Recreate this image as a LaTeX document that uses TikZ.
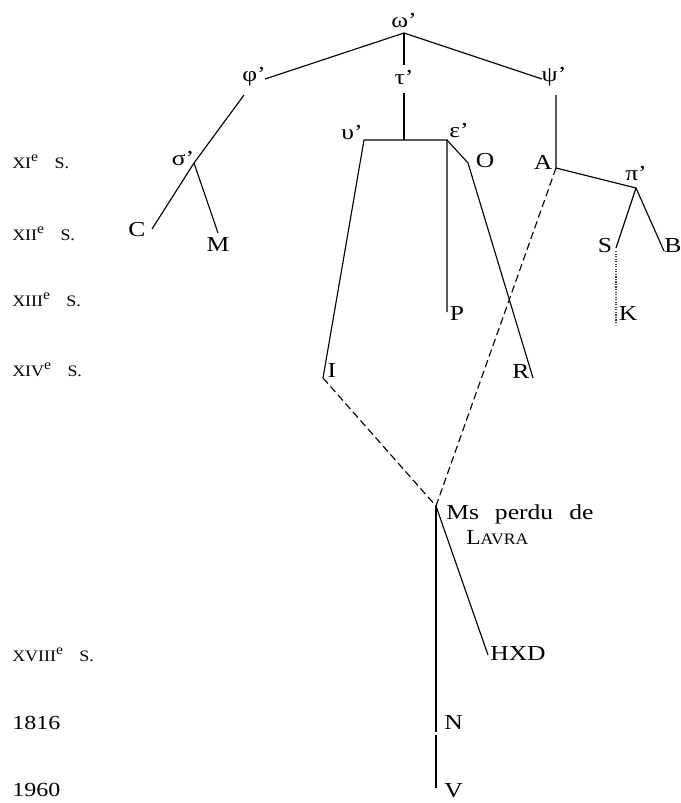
\documentclass[tikz,border=0pt]{standalone}
\usepackage{fontspec}
\usepackage{graphicx}
\setmainfont{Liberation Serif}
\newcommand\lblfont{\fontsize{16}{18}\selectfont}
\newcommand\sieclefont{\fontsize{15}{17}\selectfont}
\newcommand\W[1]{\scalebox{1.2}[1]{#1}}
\newcommand\smc[1]{{\fontsize{12}{13}\selectfont #1}}
\newcommand\siecle[1]{\scalebox{1.12}[1]{\smc{#1}\textsuperscript{e}\hspace{0.7em}\smc{S.}}}
\begin{document}
\begin{tikzpicture}[x=0.75pt,y=-0.75pt,
  ln/.style={line width=0.85pt},
  dsh/.style={line width=0.85pt, dash pattern=on 5.5pt off 3pt},
  dtt/.style={line width=0.9pt, densely dotted, black!75},
  lbl/.style={inner sep=0pt, font=\lblfont},
  sc/.style={inner sep=0pt, anchor=west, font=\sieclefont}]
\useasboundingbox (0,0) rectangle (681,803);

% century labels
\node[sc] (s11) at (12,162) {\siecle{XI}};
\node[sc] (s12) at (12,234) {\siecle{XII}};
\node[sc] (s13) at (12,300) {\siecle{XIII}};
\node[sc] (s14) at (12,370) {\siecle{XIV}};
\node[sc] (s18) at (12,655) {\siecle{XVIII}};
\node[sc] (y1816) at (12,723) {\W{1816}};
\node[sc] (y1960) at (12,790) {\W{1960}};

% junction coordinates
\coordinate (wJ) at (404,33);
\coordinate (phiE) at (265,79);
\coordinate (psiE) at (542,79);
\coordinate (tauT) at (404,65);
\coordinate (phiL) at (244,95);
\coordinate (sig) at (194,163);
\coordinate (Ce) at (152,229);
\coordinate (Me) at (218,233);
\coordinate (tauL) at (404,93);
\coordinate (barM) at (404,140);
\coordinate (barL) at (364,140);
\coordinate (barR) at (447,140);
\coordinate (Ie) at (323,378);
\coordinate (Pe) at (447,312);
\coordinate (Ok) at (468,163);
\coordinate (Re) at (533,378);
\coordinate (psiL) at (556,95);
\coordinate (Aj) at (556,168);
\coordinate (pij) at (636,188);
\coordinate (Se) at (616,248);
\coordinate (Be) at (664,251);
\coordinate (St) at (616,251);
\coordinate (Ke) at (616,322);
\coordinate (Ms) at (436,506);
\coordinate (He) at (488,655);
\coordinate (N1) at (436,732);
\coordinate (N2) at (436,735);
\coordinate (Ve) at (436,788);

% labels
\node[lbl] (omega) at (404,21) {\W{ω’}};
\node[lbl] (phi) at (254,77) {\W{φ’}};
\node[lbl] (tau) at (404,78) {\W{τ’}};
\node[lbl] (psi) at (554,77) {\W{ψ’}};
\node[lbl] (sigma) at (183,159) {\W{σ’}};
\node[lbl] (C) at (137,230) {\W{C}};
\node[lbl] (M) at (218,245) {\W{M}};
\node[lbl] (ups) at (352,133) {\W{υ’}};
\node[lbl] (eps) at (459,131) {\W{ε’}};
\node[lbl] (O) at (485,161) {\W{O}};
\node[lbl] (A) at (543,162) {\W{A}};
\node[lbl] (pi) at (636,174) {\W{π’}};
\node[lbl] (S) at (605,246) {\W{S}};
\node[lbl] (B) at (673,246) {\W{B}};
\node[lbl] (P) at (457,314) {\W{P}};
\node[lbl] (K) at (628,314) {\W{K}};
\node[lbl] (I) at (332,371) {\W{I}};
\node[lbl] (R) at (521,372) {\W{R}};
\node[lbl, anchor=west] (ms) at (446,514) {\W{Ms\hspace{10pt}perdu\hspace{10pt}de}};
\node[lbl, anchor=west] (lavra) at (466,538) {\scalebox{1.1}[1]{L\smc{AVRA}}};
\node[lbl, anchor=west] (HXD) at (490,654) {\W{HXD}};
\node[lbl, anchor=west] (N) at (444,723) {\W{N}};
\node[lbl, anchor=west] (V) at (444,791) {\W{V}};

% connectors
\draw[ln] (phiE) -- (wJ) -- (psiE);
\draw[ln] (wJ) -- (tauT);
\draw[ln] (phiL) -- (sig) -- (Ce);
\draw[ln] (sig) -- (Me);
\draw[ln] (tauL) -- (barM);
\draw[ln] (Ie) -- (barL) -- (barR) -- (Pe);
\draw[ln] (barR) -- (Ok) -- (Re);
\draw[ln] (psiL) -- (Aj) -- (pij) -- (Se);
\draw[ln] (pij) -- (Be);
\draw[dtt] (St) -- (Ke);
\draw[dsh] (Aj) -- (Ms);
\draw[dsh] (Ie) -- (Ms);
\draw[ln] (Ms) -- (He);
\draw[ln] (Ms) -- (N1);
\draw[ln] (N2) -- (Ve);
\end{tikzpicture}
\end{document}
